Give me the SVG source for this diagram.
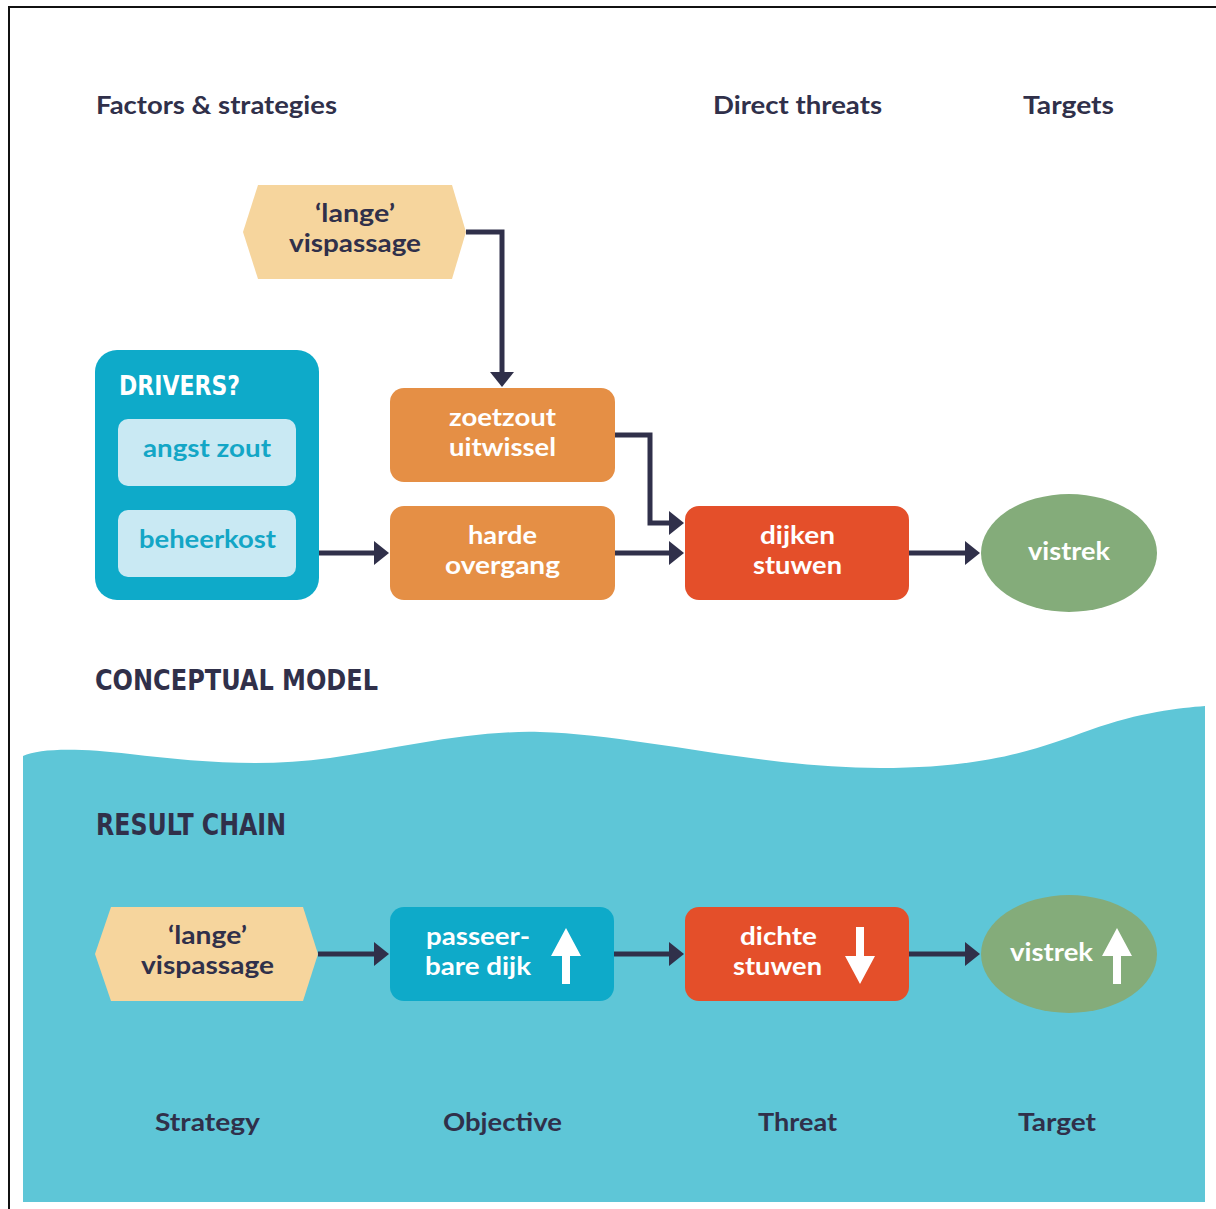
<svg xmlns="http://www.w3.org/2000/svg" width="1216" height="1209" viewBox="0 0 1216 1209">
<style>
.t{font-family:Lato,"Open Sans",sans-serif;font-weight:700;text-anchor:middle}
.hd{font-size:24px;fill:#30304a}
.nd{font-size:24px}
.dk{fill:#30304a}
.wh{fill:#ffffff}
.disp{font-family:"DejaVu Sans Condensed","DejaVu Sans",sans-serif;font-weight:700;fill:#30304a}
.conn{fill:none;stroke:#30304a;stroke-width:5}
</style>
<defs>
<marker id="ah" viewBox="0 0 15 24" refX="10" refY="12" markerWidth="15" markerHeight="24" markerUnits="userSpaceOnUse" orient="auto">
<path d="M0,0 L15,12 L0,24 Z" fill="#30304a"/>
</marker>
</defs>
<rect width="1216" height="1209" fill="#ffffff"/>
<path d="M9,1209 L9,7 L1216,7" fill="none" stroke="#111" stroke-width="2"/>
<path id="water" d="M23,756 C40,748 80,748 130,754 C190,761 260,768 330,758 C400,748 470,730 540,732 C640,735 760,768 880,768 C990,768 1040,748 1090,730 C1140,712 1180,708 1205,706 L1205,1202 L23,1202 Z" fill="#5ec6d7"/>

<text class="t hd" x="216.5" y="114" textLength="241" lengthAdjust="spacingAndGlyphs">Factors &amp; strategies</text>
<text class="t hd" x="797.5" y="114" textLength="169" lengthAdjust="spacingAndGlyphs">Direct threats</text>
<text class="t hd" x="1068.5" y="114" textLength="91" lengthAdjust="spacingAndGlyphs">Targets</text>
<text class="disp" x="95" y="690" font-size="28" textLength="283" lengthAdjust="spacingAndGlyphs">CONCEPTUAL MODEL</text>
<text class="disp" x="96" y="835" font-size="30" textLength="190" lengthAdjust="spacingAndGlyphs">RESULT CHAIN</text>
<text class="t hd" x="207.5" y="1131" textLength="105" lengthAdjust="spacingAndGlyphs">Strategy</text>
<text class="t hd" x="502.5" y="1131" textLength="119" lengthAdjust="spacingAndGlyphs">Objective</text>
<text class="t hd" x="797.5" y="1131" textLength="79" lengthAdjust="spacingAndGlyphs">Threat</text>
<text class="t hd" x="1057" y="1131" textLength="78" lengthAdjust="spacingAndGlyphs">Target</text>

<g id="connectors">
<path class="conn" d="M466,232 L502,232 L502,382" marker-end="url(#ah)"/>
<path class="conn" d="M615,435 L650,435 L650,523 L679,523" marker-end="url(#ah)"/>
<path class="conn" d="M615,553 L679,553" marker-end="url(#ah)"/>
<path class="conn" d="M319,553 L384,553" marker-end="url(#ah)"/>
<path class="conn" d="M909,553 L975,553" marker-end="url(#ah)"/>
<path class="conn" d="M318,954 L384,954" marker-end="url(#ah)"/>
<path class="conn" d="M614,954 L679,954" marker-end="url(#ah)"/>
<path class="conn" d="M909,954 L975,954" marker-end="url(#ah)"/>
</g>

<g id="strategy-top">
<polygon points="243,232 258,185 452,185 466,232 452,279 258,279" fill="#f6d59d"/>
<text class="t nd dk" x="355" y="222" textLength="80" lengthAdjust="spacingAndGlyphs">‘lange’</text>
<text class="t nd dk" x="355" y="252" textLength="132" lengthAdjust="spacingAndGlyphs">vispassage</text>
</g>

<g id="drivers">
<rect x="95" y="350" width="224" height="250" rx="22" fill="#0eaac9"/>
<text class="disp" x="119" y="395" font-size="27" style="fill:#ffffff" textLength="121" lengthAdjust="spacingAndGlyphs">DRIVERS?</text>
<rect x="118" y="419" width="178" height="67" rx="10" fill="#c9e9f3"/>
<text class="t nd" x="207" y="457" fill="#13a6c6" textLength="128" lengthAdjust="spacingAndGlyphs">angst zout</text>
<rect x="118" y="510" width="178" height="67" rx="10" fill="#c9e9f3"/>
<text class="t nd" x="207.5" y="548" fill="#13a6c6" textLength="137" lengthAdjust="spacingAndGlyphs">beheerkost</text>
</g>

<g id="zoetzout">
<rect x="390" y="388" width="225" height="94" rx="14" fill="#e58f45"/>
<text class="t nd wh" x="502.5" y="426" textLength="107" lengthAdjust="spacingAndGlyphs">zoetzout</text>
<text class="t nd wh" x="502.5" y="456" textLength="107" lengthAdjust="spacingAndGlyphs">uitwissel</text>
</g>

<g id="harde">
<rect x="390" y="506" width="225" height="94" rx="14" fill="#e58f45"/>
<text class="t nd wh" x="502.5" y="544" textLength="69" lengthAdjust="spacingAndGlyphs">harde</text>
<text class="t nd wh" x="502.5" y="574" textLength="115" lengthAdjust="spacingAndGlyphs">overgang</text>
</g>

<g id="dijken">
<rect x="685" y="506" width="224" height="94" rx="14" fill="#e44f2a"/>
<text class="t nd wh" x="797.5" y="544" textLength="75" lengthAdjust="spacingAndGlyphs">dijken</text>
<text class="t nd wh" x="797.5" y="574" textLength="89" lengthAdjust="spacingAndGlyphs">stuwen</text>
</g>

<g id="vistrek-top">
<ellipse cx="1069" cy="553" rx="88" ry="59" fill="#84ac7a"/>
<text class="t nd wh" x="1069" y="560" textLength="82" lengthAdjust="spacingAndGlyphs">vistrek</text>
</g>

<g id="strategy">
<polygon points="95,954 111,907 303,907 318,954 303,1001 111,1001" fill="#f6d59d"/>
<text class="t nd dk" x="207.5" y="944" textLength="79" lengthAdjust="spacingAndGlyphs">‘lange’</text>
<text class="t nd dk" x="207.5" y="974" textLength="133" lengthAdjust="spacingAndGlyphs">vispassage</text>
</g>

<g id="objective">
<rect x="390" y="907" width="224" height="94" rx="14" fill="#0eaac9"/>
<text class="t nd wh" x="478" y="945" textLength="104" lengthAdjust="spacingAndGlyphs">passeer-</text>
<text class="t nd wh" x="478" y="975" textLength="106" lengthAdjust="spacingAndGlyphs">bare dijk</text>
<path d="M566,928 L581,956 L570,956 L570,984 L562,984 L562,956 L551,956 Z" fill="#ffffff"/>
</g>

<g id="threat">
<rect x="685" y="907" width="224" height="94" rx="14" fill="#e44f2a"/>
<text class="t nd wh" x="778.5" y="945" textLength="77" lengthAdjust="spacingAndGlyphs">dichte</text>
<text class="t nd wh" x="777.5" y="975" textLength="89" lengthAdjust="spacingAndGlyphs">stuwen</text>
<path d="M860,984 L875,956 L864,956 L864,927 L856,927 L856,956 L845,956 Z" fill="#ffffff"/>
</g>

<g id="target">
<ellipse cx="1069" cy="954" rx="88" ry="59" fill="#84ac7a"/>
<text class="t nd wh" x="1051.5" y="961" textLength="83" lengthAdjust="spacingAndGlyphs">vistrek</text>
<path d="M1117,928 L1132,956 L1121,956 L1121,984 L1113,984 L1113,956 L1102,956 Z" fill="#ffffff"/>
</g>
</svg>
